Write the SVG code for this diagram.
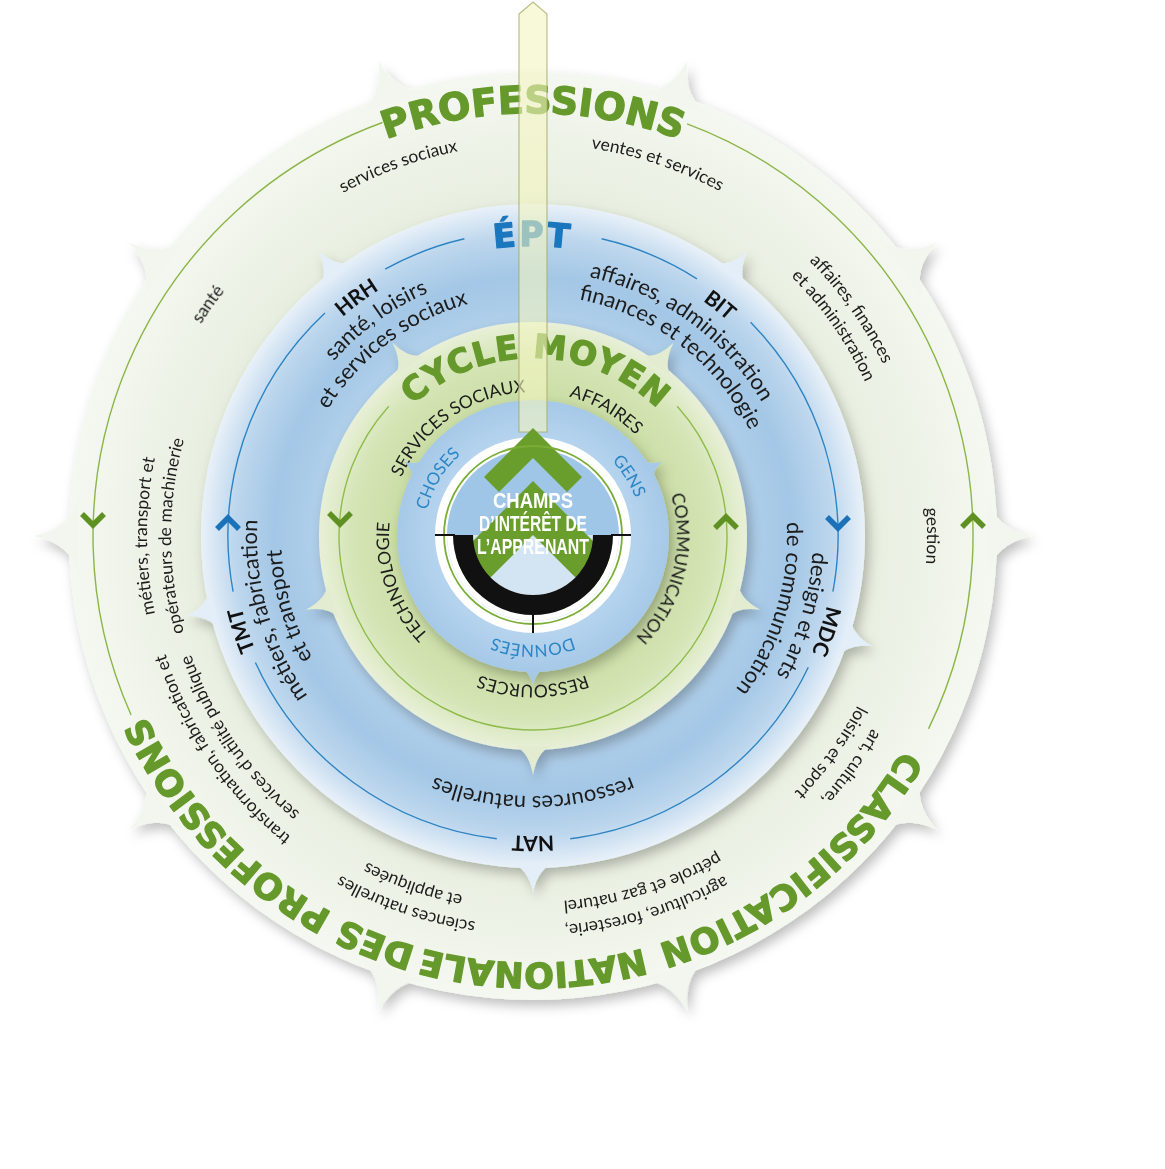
<svg xmlns="http://www.w3.org/2000/svg" width="1165" height="1169" viewBox="0 0 1165 1169">
<defs>
<style>
.tx{font-family:Lato,'Liberation Sans',sans-serif;fill:#1c1c1c}
.so{font-size:17.5px}
.sb{font-size:22px}
.lb{font-family:Lato,'Liberation Sans',sans-serif;font-weight:bold;font-size:21px;fill:#111}
.tt{font-family:'DejaVu Sans',sans-serif;font-weight:bold;stroke-width:1.3;stroke-linejoin:round}
.gr{fill:#66992b;stroke:#66992b}
.bu{fill:#1b77bd;stroke:#1b77bd}
.cm{font-size:17.5px}
.il{font-family:Lato,'Liberation Sans',sans-serif;font-size:17px;fill:#2b86c6}
.ln{fill:none;stroke-width:1.4}
.chv{fill:none;stroke-width:5.5;stroke-linejoin:miter;stroke-linecap:butt}
.ctr{font-family:'Liberation Sans Narrow','Liberation Sans',sans-serif;font-weight:bold;font-size:22px;fill:#fff}
</style>
<filter id="sh" x="-15%" y="-15%" width="130%" height="130%">
<feDropShadow dx="4" dy="6" stdDeviation="6" flood-color="#000" flood-opacity="0.25"/>
</filter>
<radialGradient id="gO" gradientUnits="userSpaceOnUse" cx="533" cy="536" r="464">
<stop offset="0.7" stop-color="#e7eede"/><stop offset="0.86" stop-color="#eef3e8"/><stop offset="1" stop-color="#f5f8f1"/>
</radialGradient>
<radialGradient id="gB" gradientUnits="userSpaceOnUse" cx="533" cy="536" r="332">
<stop offset="0.62" stop-color="#b3d1eb"/><stop offset="0.78" stop-color="#a3c7e6"/><stop offset="0.9" stop-color="#bcd6ed"/><stop offset="1" stop-color="#e9f1f9"/>
</radialGradient>
<radialGradient id="gG" gradientUnits="userSpaceOnUse" cx="533" cy="536" r="214">
<stop offset="0.62" stop-color="#cadda4"/><stop offset="0.85" stop-color="#d5e5b6"/><stop offset="1" stop-color="#e8f0d8"/>
</radialGradient>
<radialGradient id="gI" gradientUnits="userSpaceOnUse" cx="533" cy="536" r="136">
<stop offset="0.6" stop-color="#bcd8f0"/><stop offset="1" stop-color="#a6c9e8"/>
</radialGradient>
<path id="spO" d="M-38,-455 Q-8,-462 0,-499 Q8,-462 38,-455 Z"/>
<path id="spB" d="M-22,-326 Q-5,-333 0,-356 Q5,-333 22,-326 Z"/>
<path id="spG" d="M-18,-210 Q-4,-216 0,-239 Q4,-216 18,-210 Z"/>
<path id="spI" d="M-12,-132 Q-3,-136 0,-149 Q3,-136 12,-132 Z"/>
<path id="r423" d="M-421.39,-36.87 A423,423 0 0 1 421.39,-36.87"/>
<path id="r427" d="M-425.37,-37.22 A427,427 0 0 1 425.37,-37.22"/>
<path id="r394" d="M-392.5,-34.34 A394,394 0 0 1 392.5,-34.34"/>
<path id="r392" d="M-390.51,-34.17 A392,392 0 0 1 390.51,-34.17"/>
<path id="r390" d="M-388.51,-33.99 A390,390 0 0 1 388.51,-33.99"/>
<path id="r386" d="M-384.53,-33.64 A386,386 0 0 1 384.53,-33.64"/>
<path id="r366" d="M-364.61,-31.9 A366,366 0 0 1 364.61,-31.9"/>
<path id="r362" d="M-360.62,-31.55 A362,362 0 0 1 360.62,-31.55"/>
<path id="r302" d="M-300.85,-26.32 A302,302 0 0 1 300.85,-26.32"/>
<path id="r300" d="M-298.86,-26.15 A300,300 0 0 1 298.86,-26.15"/>
<path id="r290" d="M-288.9,-25.28 A290,290 0 0 1 288.9,-25.28"/>
<path id="r280" d="M-278.93,-24.4 A280,280 0 0 1 278.93,-24.4"/>
<path id="r276" d="M-274.95,-24.06 A276,276 0 0 1 274.95,-24.06"/>
<path id="r265" d="M-263.99,-23.1 A265,265 0 0 1 263.99,-23.1"/>
<path id="r260" d="M-259.01,-22.66 A260,260 0 0 1 259.01,-22.66"/>
<path id="r254" d="M-253.03,-22.14 A254,254 0 0 1 253.03,-22.14"/>
<path id="r252" d="M-251.04,-21.96 A252,252 0 0 1 251.04,-21.96"/>
<path id="r241" d="M-240.08,-21 A241,241 0 0 1 240.08,-21"/>
<path id="r178" d="M-177.32,-15.51 A178,178 0 0 1 177.32,-15.51"/>
<path id="r149" d="M-148.43,-12.99 A149,149 0 0 1 148.43,-12.99"/>
<path id="r144" d="M-143.45,-12.55 A144,144 0 0 1 143.45,-12.55"/>
<path id="r109" d="M-108.58,-9.5 A109,109 0 0 1 108.58,-9.5"/>
<clipPath id="cl80"><circle cx="533" cy="535" r="80"/></clipPath>
</defs>
<rect width="1165" height="1169" fill="#fff"/>

<g id="ring-professions">
<g filter="url(#sh)">
<circle cx="533" cy="536" r="464" fill="url(#gO)"/>
<g fill="#f3f6ee">
<use href="#spO" transform="translate(533,536) rotate(18)"/>
<use href="#spO" transform="translate(533,536) rotate(54)"/>
<use href="#spO" transform="translate(533,536) rotate(90)"/>
<use href="#spO" transform="translate(533,536) rotate(126)"/>
<use href="#spO" transform="translate(533,536) rotate(162)"/>
<use href="#spO" transform="translate(533,536) rotate(198)"/>
<use href="#spO" transform="translate(533,536) rotate(234)"/>
<use href="#spO" transform="translate(533,536) rotate(270)"/>
<use href="#spO" transform="translate(533,536) rotate(306)"/>
<use href="#spO" transform="translate(533,536) rotate(342)"/>
</g>
</g>
<text class="tt gr" font-size="38" text-anchor="middle" transform="translate(533,536)"><textPath href="#r423" startOffset="50%">PROFESSIONS</textPath></text>
<text class="tt gr" font-size="35" text-anchor="middle" transform="translate(533,536) rotate(141.5)"><textPath href="#r427" startOffset="50%">CLASSIFICATION</textPath></text>
<text class="tt gr" font-size="35" text-anchor="middle" transform="translate(533,536) rotate(180)"><textPath href="#r427" startOffset="50%">NATIONALE</textPath></text>
<text class="tt gr" font-size="35" text-anchor="middle" transform="translate(533,536) rotate(220.5)"><textPath href="#r427" startOffset="50%">DES PROFESSIONS</textPath></text>
<g class="tx so" text-anchor="middle">
<text transform="translate(533,536) rotate(-20)"><textPath href="#r392" startOffset="50%">services sociaux</textPath></text>
<text transform="translate(533,536) rotate(18.5)"><textPath href="#r392" startOffset="50%">ventes et services</textPath></text>
<text transform="translate(533,536) rotate(-54.5)"><textPath href="#r394" startOffset="50%">santé</textPath></text>
<text transform="translate(533,536) rotate(54.5)"><textPath href="#r390" startOffset="50%">affaires, finances</textPath></text>
<text transform="translate(533,536) rotate(55)"><textPath href="#r366" startOffset="50%">et administration</textPath></text>
<text transform="translate(533,536) rotate(90)"><textPath href="#r394" startOffset="50%">gestion</textPath></text>
<text transform="translate(533,536) rotate(126)"><textPath href="#r390" startOffset="50%">art, culture,</textPath></text>
<text transform="translate(533,536) rotate(126)"><textPath href="#r366" startOffset="50%">loisirs et sport</textPath></text>
<text transform="translate(533,536) rotate(163)"><textPath href="#r390" startOffset="50%">agriculture, foresterie,</textPath></text>
<text transform="translate(533,536) rotate(162.5)"><textPath href="#r366" startOffset="50%">pétrole et gaz naturel</textPath></text>
<text transform="translate(533,536) rotate(199)"><textPath href="#r390" startOffset="50%">sciences naturelles</textPath></text>
<text transform="translate(533,536) rotate(199)"><textPath href="#r366" startOffset="50%">et appliquées</textPath></text>
<text transform="translate(533,536) rotate(235.5)"><textPath href="#r386" startOffset="50%">transformation, fabrication et</textPath></text>
<text transform="translate(533,536) rotate(235.5)"><textPath href="#r362" startOffset="50%">services d’utilité publique</textPath></text>
<text transform="translate(533,536) rotate(270)"><textPath href="#r386" startOffset="50%">métiers, transport et</textPath></text>
<text transform="translate(533,536) rotate(270)"><textPath href="#r362" startOffset="50%">opérateurs de machinerie</textPath></text>
</g>
</g>

<g id="ring-ept">
<g filter="url(#sh)">
<circle cx="533" cy="536" r="332" fill="url(#gB)"/>
<g fill="#e4eef8">
<use href="#spB" transform="translate(533,536) rotate(-37)"/>
<use href="#spB" transform="translate(533,536) rotate(37)"/>
<use href="#spB" transform="translate(533,536) rotate(108)"/>
<use href="#spB" transform="translate(533,536) rotate(180)"/>
<use href="#spB" transform="translate(533,536) rotate(257)"/>
</g>
</g>
<text class="tt bu" font-size="33" letter-spacing="3" text-anchor="middle" transform="translate(533,536)"><textPath href="#r290" startOffset="50%">ÉPT</textPath></text>
<g text-anchor="middle">
<text class="lb" transform="translate(533,536) rotate(-36.5)"><textPath href="#r290" startOffset="50%">HRH</textPath></text>
<text class="tx sb" transform="translate(533,536) rotate(-36)"><textPath href="#r265" startOffset="50%">santé, loisirs</textPath></text>
<text class="tx sb" transform="translate(533,536) rotate(-37)"><textPath href="#r241" startOffset="50%">et services sociaux</textPath></text>
<text class="lb" transform="translate(533,536) rotate(39)"><textPath href="#r290" startOffset="50%">BIT</textPath></text>
<text class="tx sb" transform="translate(533,536) rotate(36)"><textPath href="#r265" startOffset="50%">affaires, administration</textPath></text>
<text class="tx sb" transform="translate(533,536) rotate(37.5)"><textPath href="#r241" startOffset="50%">finances et technologie</textPath></text>
<text class="lb" transform="translate(533,536) rotate(108)"><textPath href="#r302" startOffset="50%">MDC</textPath></text>
<text class="tx sb" transform="translate(533,536) rotate(106.5)"><textPath href="#r280" startOffset="50%">design et arts</textPath></text>
<text class="tx sb" transform="translate(533,536) rotate(107)"><textPath href="#r254" startOffset="50%">de communication</textPath></text>
<text class="lb" transform="translate(533,536) rotate(180)"><textPath href="#r300" startOffset="50%">NAT</textPath></text>
<text class="tx sb" transform="translate(533,536) rotate(180)"><textPath href="#r260" startOffset="50%">ressources naturelles</textPath></text>
<text class="lb" transform="translate(533,536) rotate(252)"><textPath href="#r300" startOffset="50%">TMT</textPath></text>
<text class="tx sb" transform="translate(533,536) rotate(254)"><textPath href="#r276" startOffset="50%">métiers, fabrication</textPath></text>
<text class="tx sb" transform="translate(533,536) rotate(254)"><textPath href="#r252" startOffset="50%">et transport</textPath></text>
</g>
</g>

<g id="ring-cycle-moyen">
<g filter="url(#sh)">
<circle cx="533" cy="536" r="214" fill="url(#gG)"/>
<g fill="#e3ecd0">
<use href="#spG" transform="translate(533,536) rotate(-36)"/>
<use href="#spG" transform="translate(533,536) rotate(36)"/>
<use href="#spG" transform="translate(533,536) rotate(108)"/>
<use href="#spG" transform="translate(533,536) rotate(180)"/>
<use href="#spG" transform="translate(533,536) rotate(252)"/>
</g>
</g>
<text class="tt gr" font-size="33" letter-spacing="1" text-anchor="middle" transform="translate(533,536) rotate(1)"><textPath href="#r178" startOffset="50%">CYCLE MOYEN</textPath></text>
<g class="tx cm" text-anchor="middle">
<text transform="translate(533,536) rotate(-34.5)"><textPath href="#r144" startOffset="50%">SERVICES SOCIAUX</textPath></text>
<text transform="translate(533,536) rotate(30)"><textPath href="#r144" startOffset="50%">AFFAIRES</textPath></text>
<text transform="translate(533,536) rotate(104)"><textPath href="#r144" startOffset="50%">COMMUNICATION</textPath></text>
<text transform="translate(533,536) rotate(180)"><textPath href="#r149" startOffset="50%">RESSOURCES</textPath></text>
<text transform="translate(533,536) rotate(251)"><textPath href="#r144" startOffset="50%">TECHNOLOGIE</textPath></text>
</g>
</g>

<g id="ring-interets">
<g filter="url(#sh)">
<circle cx="533" cy="536" r="136" fill="url(#gI)"/>
<g fill="#a6c9e8">
<use href="#spI" transform="translate(533,536) rotate(-60)"/>
<use href="#spI" transform="translate(533,536) rotate(60)"/>
<use href="#spI" transform="translate(533,536) rotate(180)"/>
</g>
</g>
<g class="il" text-anchor="middle">
<text transform="translate(533,536) rotate(-59)"><textPath href="#r109" startOffset="50%">CHOSES</textPath></text>
<text transform="translate(533,536) rotate(58)"><textPath href="#r109" startOffset="50%">GENS</textPath></text>
<text transform="translate(533,536) rotate(180)"><textPath href="#r109" startOffset="50%">DONNÉES</textPath></text>
</g>
</g>

<g id="connectors">
<g class="ln" stroke="#8cb548">
<path d="M687.1,123.9 A440,440 0 0 1 928.5,728.9"/>
<path d="M131.1,715 A440,440 0 0 1 382.5,122.5"/>
</g>
<g class="ln" stroke="#2d84c4">
<path d="M385.1,269.2 A305,305 0 0 1 464.4,238.8"/>
<path d="M601.6,238.8 A305,305 0 0 1 696.9,278.8"/>
<path d="M750.6,322.2 A305,305 0 0 1 832.9,591.6"/>
<path d="M808.3,667.3 A305,305 0 0 1 570.2,838.7"/>
<path d="M496.8,838.7 A305,305 0 0 1 255.4,662.5"/>
<path d="M233.1,591.6 A305,305 0 0 1 325,312.9"/>
</g>
<path class="ln" stroke="#8fbc4c" d="M677.2,406.2 A194,194 0 1 1 388.8,406.2"/>
<g class="chv" stroke="#5e9122">
<polyline points="82,514 93,525 104,514"/>
<polyline points="962,527 973,516 984,527"/>
<polyline points="329,513 340,524 351,513"/>
<polyline points="715,528 726,517 737,528"/>
</g>
<g class="chv" stroke="#1b72b8">
<polyline points="217,529 228,518 239,529"/>
<polyline points="827,517 838,528 849,517"/>
</g>
</g>

<polygon id="beam" points="519,14 533,2 547,14 547,432 519,432" fill="#f3f5c0" fill-opacity="0.6" stroke="#a3aa66" stroke-opacity="0.75" stroke-width="1.2"/>

<g id="champs-interet">
<circle cx="533" cy="535" r="98" fill="#fff"/>
<circle cx="533" cy="535" r="86" fill="#9fc6e7"/>
<path d="M447,535 A86,86 0 0 0 619,535 Z" fill="#fff"/>
<path d="M473,535 A60,60 0 0 0 593,535 Z" fill="#d3e4f2"/>
<polygon points="533,428 484,477 499,492 533,458 567,492 582,477" fill="#6a9e2c"/>
<polygon clip-path="url(#cl80)" points="533,481 433,581 460,608 533,535 606,608 633,581" fill="#6a9e2c"/>
<path d="M453,535 A80,80 0 0 0 613,535 L593,535 A60,60 0 0 1 473,535 Z" fill="#111"/>
<circle cx="533" cy="535" r="89" fill="none" stroke="#79ad35" stroke-width="1.8"/>
<g stroke="#111" stroke-width="2">
<line x1="435" y1="535" x2="455" y2="535"/>
<line x1="611" y1="535" x2="631" y2="535"/>
<line x1="533" y1="613" x2="533" y2="633"/>
</g>
<text class="ctr" x="533" y="508" text-anchor="middle" textLength="80" lengthAdjust="spacingAndGlyphs">CHAMPS</text>
<text class="ctr" x="533" y="531" text-anchor="middle" textLength="108" lengthAdjust="spacingAndGlyphs">D’INTÉRÊT DE</text>
<text class="ctr" x="533" y="554" text-anchor="middle" textLength="112" lengthAdjust="spacingAndGlyphs">L’APPRENANT</text>
</g>
</svg>
